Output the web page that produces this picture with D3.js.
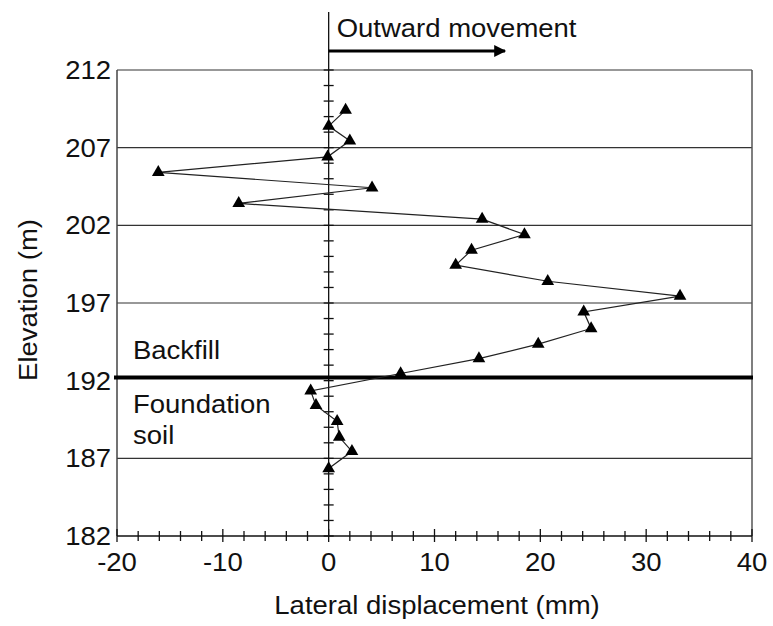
<!DOCTYPE html>
<html>
<head>
<meta charset="utf-8">
<script src="https://cdn.jsdelivr.net/npm/d3@7"></script>
<style>
  html, body { margin: 0; padding: 0; background: #fff; }
  svg text { font-family: "Liberation Sans", Arial, sans-serif; fill: #111; }
</style>
</head>
<body>
<svg id="chart" width="773" height="626"></svg>
<script>
// ---- data ----
const elevation = [209.42, 208.39, 207.44, 206.41, 205.41, 204.42, 203.41, 202.40, 201.41, 200.40,
                   199.44, 198.40, 197.44, 196.43, 195.36, 194.35, 193.42, 192.46, 191.34, 190.41,
                   189.38, 188.37, 187.45, 186.34];
const displacement = [1.6, 0.0, 2.0, -0.1, -16.1, 4.1, -8.5, 14.5, 18.5, 13.5,
                      12.0, 20.7, 33.2, 24.1, 24.8, 19.8, 14.2, 6.8, -1.7, -1.2,
                      0.8, 1.0, 2.2, 0.0];
const xTicks = [-20, -10, 0, 10, 20, 30, 40];
const yTicks = [182, 187, 192, 197, 202, 207, 212];
const gridElev = [212, 207, 202, 197, 187];
const boundaryElev = 192.2;
const xTitle = "Lateral displacement (mm)";
const yTitle = "Elevation (m)";
const arrowLabel = "Outward movement";
const upperLabel = ["Backfill"];
const lowerLabel = ["Foundation", "soil"];

// ---- layout ----
const svg = d3.select("#chart");
const L = 117, R = 752, T = 70, B = 536;
const x = d3.scaleLinear().domain([-20, 40]).range([L, R]);
const y = d3.scaleLinear().domain([182, 212]).range([B, T]);
const fs = 25, sx = 1.1;

function label(px, py, str, anchor, rot) {
  const g = svg.append("g").attr("transform", `translate(${px},${py})` + (rot ? ` rotate(${rot})` : "") + ` scale(${sx},1)`);
  g.append("text").attr("text-anchor", anchor || "start").attr("font-size", fs).text(str);
  return g;
}

// horizontal grid lines
svg.append("g").selectAll("line").data(gridElev).join("line")
  .attr("x1", L).attr("x2", R).attr("y1", d => y(d)).attr("y2", d => y(d))
  .attr("stroke", "#333").attr("stroke-width", 1.2);

// left and right frame lines
svg.append("line").attr("x1", L).attr("x2", L).attr("y1", T).attr("y2", B)
  .attr("stroke", "#444").attr("stroke-width", 1.5);
svg.append("line").attr("x1", R).attr("x2", R).attr("y1", T).attr("y2", B)
  .attr("stroke", "#555").attr("stroke-width", 1.5);

// bottom axis with ticks every 2 (crossing)
const xAxisG = svg.append("g");
xAxisG.append("line").attr("x1", L).attr("x2", R).attr("y1", B).attr("y2", B)
  .attr("stroke", "#111").attr("stroke-width", 1.5);
xAxisG.selectAll("line.tk").data(d3.range(-20, 40.001, 2)).join("line").attr("class", "tk")
  .attr("x1", d => x(d)).attr("x2", d => x(d))
  .attr("y1", d => B - (d % 10 === 0 ? 7 : 5)).attr("y2", d => B + (d % 10 === 0 ? 6 : 5))
  .attr("stroke", "#111").attr("stroke-width", 1.3);
xTicks.forEach(d => label(x(d), B + 35, d, "middle"));

// y tick labels on left
yTicks.forEach(d => label(L - 6, y(d) + 9, d, "end"));

// zero vertical line extending above plot
svg.append("line").attr("x1", x(0)).attr("x2", x(0)).attr("y1", 12).attr("y2", B)
  .attr("stroke", "#111").attr("stroke-width", 1.3);
// ticks on zero line every 1 m
svg.append("g").selectAll("line").data(d3.range(182, 212.001, 1)).join("line")
  .attr("x1", x(0) - 5).attr("x2", x(0) + 5).attr("y1", d => y(d)).attr("y2", d => y(d))
  .attr("stroke", "#111").attr("stroke-width", 1.3);

// boundary thick line
svg.append("line").attr("x1", L - 3).attr("x2", R + 1)
  .attr("y1", y(boundaryElev)).attr("y2", y(boundaryElev))
  .attr("stroke", "#000").attr("stroke-width", 4);

// data line
const pts = elevation.map((e, i) => [displacement[i], e]);
svg.append("path").datum(pts)
  .attr("fill", "none").attr("stroke", "#222").attr("stroke-width", 1.2)
  .attr("d", d3.line().x(d => x(d[0])).y(d => y(d[1])));
svg.append("g").selectAll("path").data(pts).join("path")
  .attr("transform", d => `translate(${x(d[0])},${y(d[1])})`)
  .attr("d", d3.symbol(d3.symbolTriangle, 70)())
  .attr("fill", "#000");

// arrow
svg.append("defs").append("marker").attr("id", "ah")
  .attr("viewBox", "0 0 10 10").attr("refX", 9).attr("refY", 5)
  .attr("markerWidth", 4.5).attr("markerHeight", 4).attr("orient", "auto")
  .append("path").attr("d", "M0,0 L10,5 L0,10 Z").attr("fill", "#000");
svg.append("line").attr("x1", x(0)).attr("x2", 505).attr("y1", 51).attr("y2", 51)
  .attr("stroke", "#000").attr("stroke-width", 3).attr("marker-end", "url(#ah)");
label(x(0) + 8, 37, arrowLabel, "start");

// layer labels
const yb = y(boundaryElev);
upperLabel.forEach((s, i) => label(133, yb - 19 + i * 31, s, "start"));
lowerLabel.forEach((s, i) => label(133, yb + 35 + i * 31, s, "start"));

// axis titles
label(437, 614, xTitle, "middle");
label(37, 300, yTitle, "middle", -90);
</script>
</body>
</html>
